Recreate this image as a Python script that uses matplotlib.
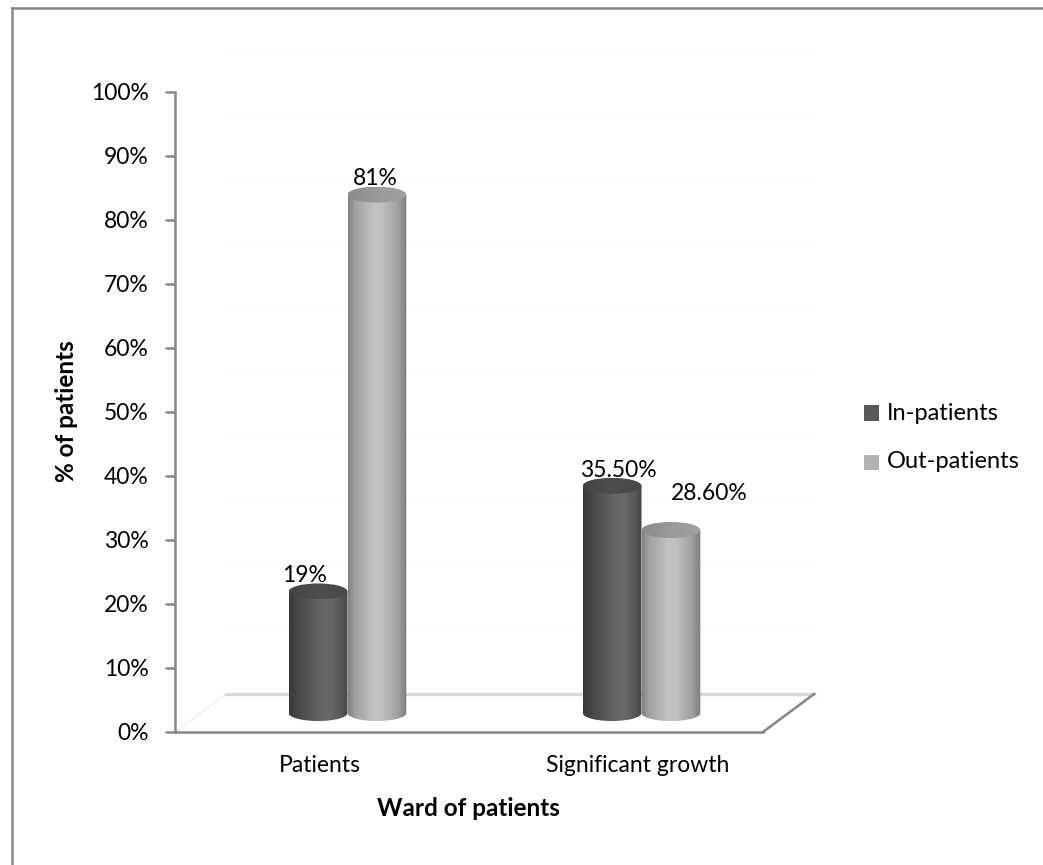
import matplotlib
matplotlib.use("Agg")
import matplotlib.pyplot as plt
import numpy as np
from matplotlib.patches import Polygon, Ellipse, Rectangle
from matplotlib.lines import Line2D
from matplotlib.colors import LinearSegmentedColormap

plt.rcParams["font.family"] = ["Lato", "DejaVu Sans"]

categories = ["Patients", "Significant growth"]
series_names = ["In-patients", "Out-patients"]
in_patients = [19.0, 35.5]
out_patients = [81.0, 28.6]
in_labels = ["19%", "35.50%"]
out_labels = ["81%", "28.60%"]
ytick_values = list(range(0, 101, 10))

W, H = 1043, 865
FS = 16.5
EDGE = "#868686"

fig = plt.figure(figsize=(W / 100, H / 100), dpi=100)
ax = fig.add_axes([175 / W, (H - 732) / H, 588 / W, 640 / H])

# floor depth (data units): x in categories, y in percent
DX, DY = 0.1735, 5.93
BAR_W = 0.2
ELL_B = 1.25   # half-height of the cylinder end caps

body_maps = [
    LinearSegmentedColormap.from_list("in_body", [
        (0.0, "#383838"), (0.15, "#474747"), (0.55, "#666666"),
        (0.7, "#696969"), (0.9, "#555555"), (1.0, "#444444")]),
    LinearSegmentedColormap.from_list("out_body", [
        (0.0, "#808080"), (0.12, "#a2a2a2"), (0.45, "#c2c2c2"),
        (0.6, "#bebebe"), (0.85, "#a0a0a0"), (1.0, "#7c7c7c")]),
]
top_maps = [
    LinearSegmentedColormap.from_list("in_top", ["#434343", "#4e4e4e", "#484848"]),
    LinearSegmentedColormap.from_list("out_top", ["#8a8a8a", "#9a9a9a", "#a2a2a2"]),
]
grad = np.linspace(0, 1, 256).reshape(1, -1)


def cylinder(xc, value, k):
    half = BAR_W / 2
    cx = xc + DX / 2
    base = DY / 2
    top = value + base
    t = np.linspace(np.pi, 2 * np.pi, 80)
    verts = list(zip(cx + half * np.cos(t), base + ELL_B * np.sin(t)))
    verts += [(cx + half, top), (cx - half, top)]
    body = Polygon(verts, closed=True, facecolor="none", edgecolor="none")
    ax.add_patch(body)
    im = ax.imshow(grad, cmap=body_maps[k], aspect="auto", origin="lower",
                   extent=(cx - half, cx + half, base - ELL_B, top),
                   interpolation="bilinear", zorder=3)
    im.set_clip_path(body)
    cap = Ellipse((cx, top), BAR_W, 2 * ELL_B, facecolor="none", edgecolor="none")
    ax.add_patch(cap)
    im2 = ax.imshow(grad, cmap=top_maps[k], aspect="auto", origin="lower",
                    extent=(cx - half, cx + half, top - ELL_B, top + ELL_B),
                    interpolation="bilinear", zorder=3)
    im2.set_clip_path(cap)
    return cx, top + ELL_B


# barely visible gridlines on the back wall
for v in ytick_values[1:]:
    ax.plot([DX, 2 + DX], [v + DY, v + DY], color="#f8f8f8", lw=0.8, zorder=0, clip_on=False)

# floor
ax.add_patch(Polygon([(0, 0), (2, 0), (2 + DX, DY), (DX, DY)], closed=True,
                     facecolor="white", edgecolor="none", zorder=1, clip_on=False))
ax.plot([DX, 2 + DX], [DY, DY], color="#d9d9d9", lw=2.5, zorder=1, clip_on=False)
ax.plot([0, DX], [0, DY], color="#e8e8e8", lw=0.8, zorder=1, clip_on=False)
ax.plot([0, 2], [0, 0], color=EDGE, lw=1.8, zorder=2, clip_on=False)
ax.plot([2, 2 + DX], [0, DY], color=EDGE, lw=1.8, zorder=2, clip_on=False)

# cylinders and value labels
in_offsets = [(-14, 1), (6, 1)]
out_offsets = [(-2, 2), (38, 22)]
for i in range(len(categories)):
    for k, (vals, labs, offs) in enumerate([(in_patients, in_labels, in_offsets),
                                             (out_patients, out_labels, out_offsets)]):
        xc = i + 0.5 + (k - 0.5) * BAR_W
        lx, ly = cylinder(xc, vals[i], k)
        ax.annotate(labs[i], (lx, ly), xytext=offs[i], textcoords="offset pixels",
                    ha="center", va="baseline", fontsize=FS, color="black",
                    zorder=5, annotation_clip=False)

ax.set_xlim(0, 2)
ax.set_ylim(0, 100)
for side in ["top", "right", "bottom"]:
    ax.spines[side].set_visible(False)
ax.spines["left"].set_color(EDGE)
ax.spines["left"].set_linewidth(1.8)
ax.set_xticks([])
ax.set_yticks(ytick_values)
ax.set_yticklabels([f"{v}%" for v in ytick_values])
ax.tick_params(axis="y", length=7, width=1.8, color=EDGE, pad=12, labelsize=FS)
ax.patch.set_alpha(0)

# category labels
for x, name in zip([0.493, 1.575], categories):
    ax.text(x, -5.3, name, ha="center", va="center", fontsize=FS)

fig.text(67 / W, 1 - 411 / H, "% of patients", rotation=90, ha="center",
         va="center", fontsize=17.5, fontweight="bold")
fig.text(468 / W, 1 - 808 / H, "Ward of patients", ha="center", va="center",
         fontsize=17.5, fontweight="bold")

# legend
for name, color, yc in zip(series_names, ["#595959", "#b2b2b2"], [413, 462]):
    fig.patches.append(Rectangle((864 / W, 1 - (yc + 7.5) / H), 15 / W, 15 / H,
                                 transform=fig.transFigure, facecolor=color,
                                 edgecolor="none"))
    fig.text(887 / W, 1 - yc / H, name, ha="left", va="center", fontsize=17)

# outer chart border (left and top edges)
fig.lines.append(Line2D([12 / W, 12 / W], [0, 1 - 8 / H], transform=fig.transFigure,
                        color=EDGE, lw=1.8))
fig.lines.append(Line2D([12 / W, 1], [1 - 8 / H, 1 - 8 / H], transform=fig.transFigure,
                        color=EDGE, lw=1.8))

fig.savefig("out.png", dpi=100)
